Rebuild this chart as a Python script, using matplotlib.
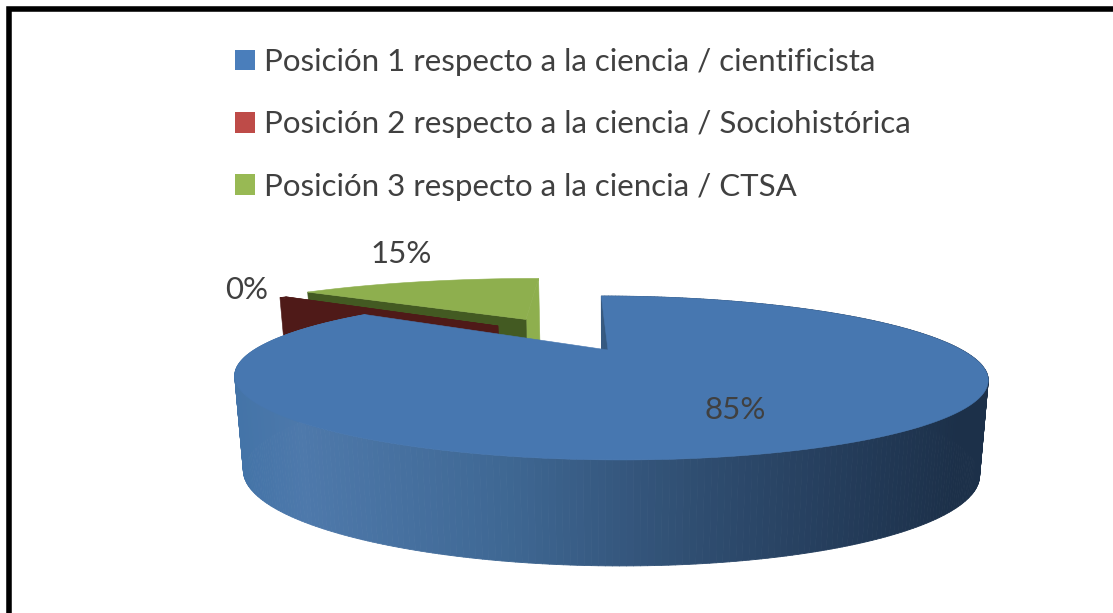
import numpy as np
import matplotlib
matplotlib.use("Agg")
import matplotlib.pyplot as plt
from matplotlib.collections import PolyCollection
from matplotlib.patches import Patch

categories = ["Posición 1 respecto a la ciencia / cientificista",
              "Posición 2 respecto a la ciencia / Sociohistórica",
              "Posición 3 respecto a la ciencia / CTSA"]
values = [85.0, 0.4, 14.6]
label_texts = ["85%", "0%", "15%"]

offset_u = [0.0, -0.341, -0.258]
offset_v = [0.0, 0.374, 0.493]
rim_scale_u = [1.0, 1.07, 1.11]
top_colors = ["#4777b0", "#a8403c", "#8eaf4e"]
wall_colors = ["#1d3a5e", "#4f1a18", "#435a22"]
legend_colors = ["#4a7ebb", "#be4b48", "#98b954"]
label_xy = [(735, 410), (247, 290), (401, 254)]

plt.rcParams["font.family"] = ["Lato", "DejaVu Sans"]
fig = plt.figure(figsize=(11.13, 6.13), dpi=100)
ax = fig.add_axes([0, 0, 1, 1])
ax.set_xlim(0, 1113)
ax.set_ylim(613, 0)
ax.axis("off")

K, A, B, CX, CY, SHEAR = 0.3415, 72.4, 354.0, 608.0, 350.0, 9.0


def project(u, v):
    s = 1 / (1 + K * v)
    return CX + (B * u - SHEAR * v) * s, CY - A * v * s


def drop(x, y):
    h = 95 + (y - 378) * 11 / 82
    return 612 + (x - 612) * 0.977, y + h


def grad(xs):
    stops_x = [235, 300, 500, 700, 850, 960, 990]
    stops = np.array([matplotlib.colors.to_rgb(c) for c in
                      ["#4474a8", "#4e79ab", "#3f6894", "#2f4d70", "#243c5a", "#1c3049", "#1c3049"]])
    return np.column_stack([np.interp(xs, stops_x, stops[:, i]) for i in range(3)])


total = sum(values)
edges = np.cumsum([0] + values) / total * 2 * np.pi


def rim(i):
    th = np.linspace(edges[i], edges[i + 1], 400)
    ou, ov = offset_u[i], offset_v[i]
    return project(ou + rim_scale_u[i] * np.sin(th), ov + np.cos(th)), project(ou, ov)


def extrude(x1, y1, x2, y2):
    xb1, yb1 = drop(x1, y1)
    xb2, yb2 = drop(x2, y2)
    return [(x1, y1), (x2, y2), (xb2, yb2), (xb1, yb1)]


def top_face(i, color, z):
    (rx, ry), (ax0, ay0) = rim(i)
    ax.fill(np.r_[ax0, rx], np.r_[ay0, ry], color=color, lw=0.4, zorder=z)


def edge_wall(i, which, color, z):
    (rx, ry), (ax0, ay0) = rim(i)
    j = 0 if which == "start" else -1
    ax.fill(*zip(*extrude(rx[j], ry[j], ax0, ay0)), color=color, lw=0.4, zorder=z)


# green slice
edge_wall(2, "end", top_colors[2], 1)
edge_wall(2, "start", wall_colors[2], 1.1)
top_face(2, top_colors[2], 1.2)
# red slice
edge_wall(1, "end", wall_colors[1], 2)
edge_wall(1, "start", wall_colors[1], 2)
top_face(1, wall_colors[1], 2.2)
# blue slice: cut wall, graded rim, top
edge_wall(0, "start", wall_colors[0], 3)
(rx, ry), _ = rim(0)
polys = [extrude(rx[k], ry[k], rx[k + 1], ry[k + 1]) for k in range(len(rx) - 1)]
ax.add_collection(PolyCollection(polys, facecolors=grad((rx[:-1] + rx[1:]) / 2),
                                 edgecolors=grad((rx[:-1] + rx[1:]) / 2), linewidths=0.6, zorder=3.1))
top_face(0, top_colors[0], 3.2)

for t, (x, y) in zip(label_texts, label_xy):
    ax.text(x, y, t, fontsize=22.5, color="#404040", ha="center", va="center", zorder=5)

handles = [Patch(facecolor=c, edgecolor="none") for c in legend_colors]
ax.legend(handles, categories, loc="upper left", bbox_to_anchor=(235 / 1113, 1 - 48 / 613),
          frameon=False, fontsize=22.5, labelcolor="#404040", handlelength=0.64, handleheight=0.64,
          handletextpad=0.30, labelspacing=1.10, borderpad=0, borderaxespad=0)

ax.plot([8.5, 8.5, 1113], [613, 8.5, 8.5], color="black", lw=4, solid_joinstyle="miter", zorder=6)

fig.savefig("out.png", dpi=100, facecolor="white")
